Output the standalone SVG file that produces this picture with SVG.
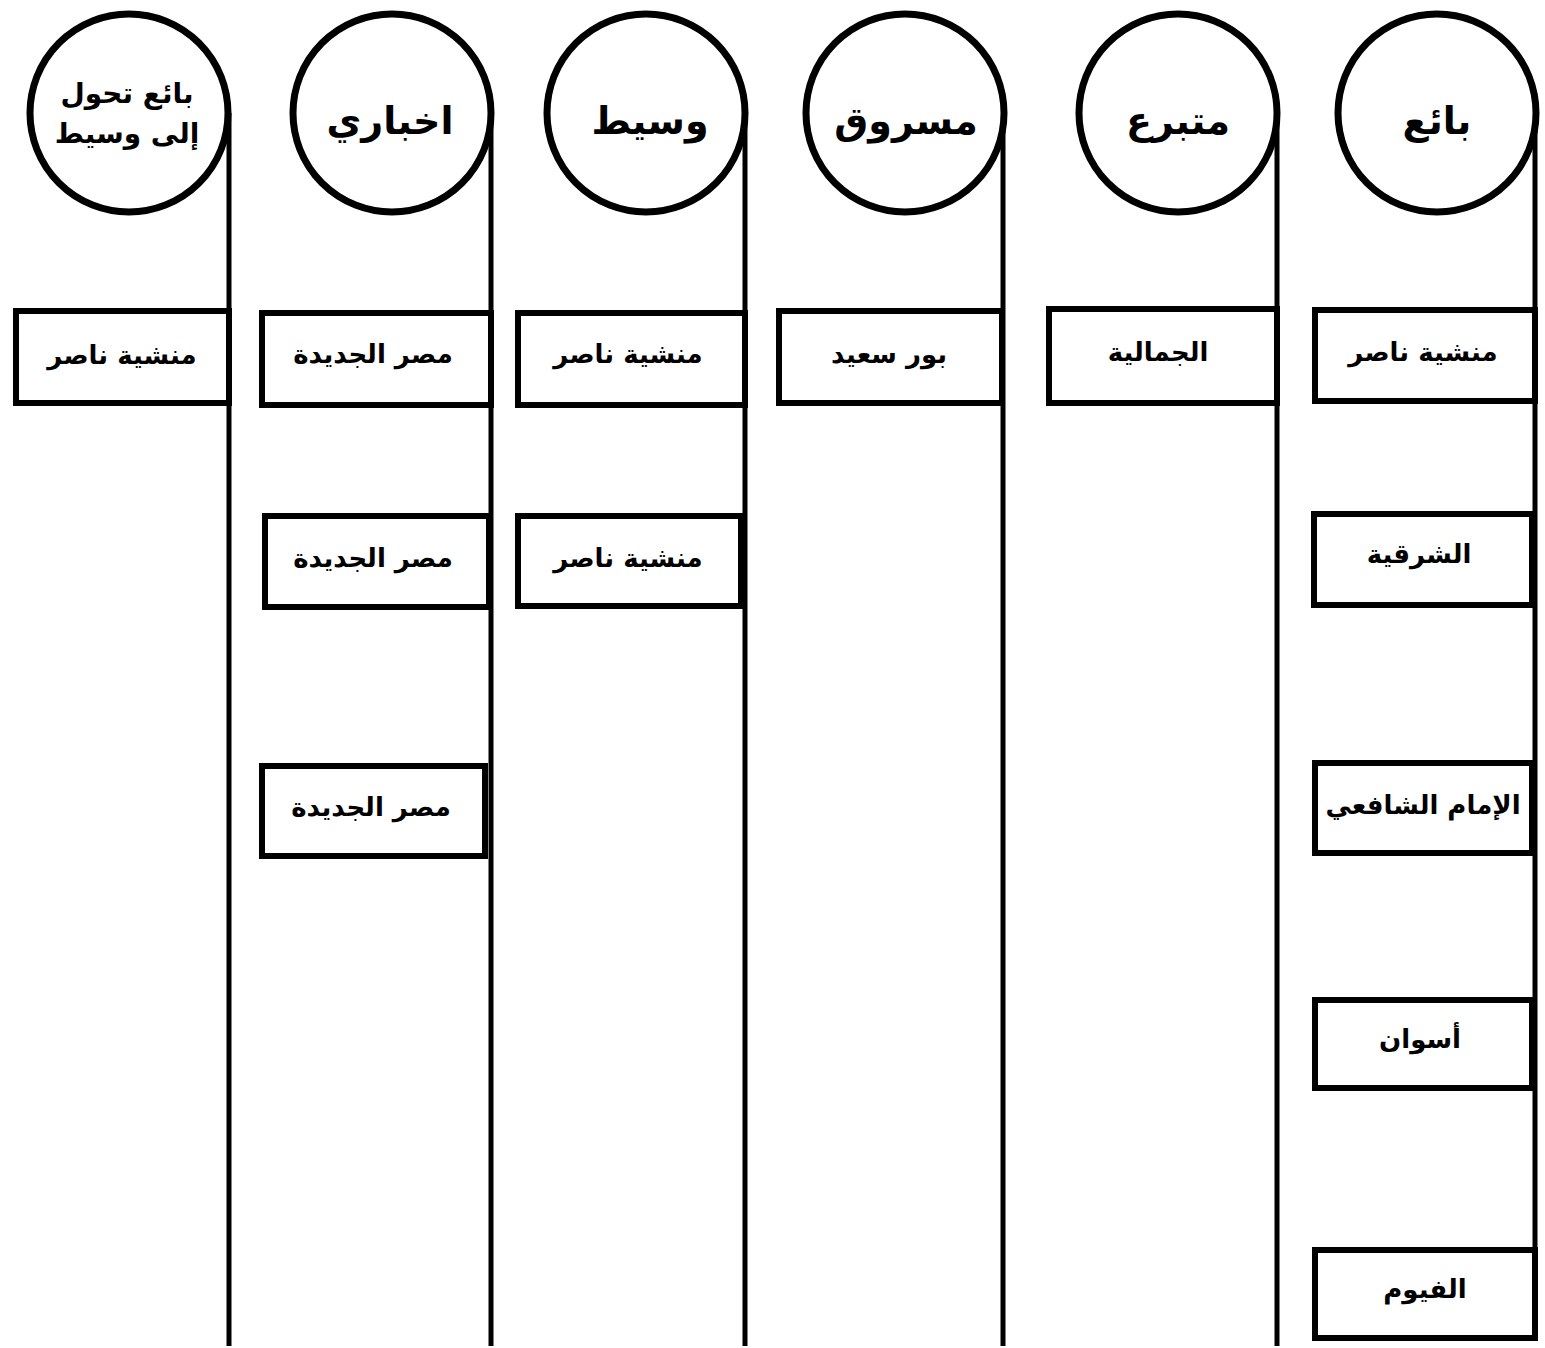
<svg xmlns="http://www.w3.org/2000/svg" width="1545" height="1348" viewBox="0 0 1545 1348">
<style>
.c{fill:#fff;stroke:#000;stroke-width:7}
.b{fill:#fff;stroke:#000;stroke-width:6}
.l{stroke:#000;stroke-width:5;fill:none}
.t{font-family:"DejaVu Sans","Noto Sans",sans-serif;font-weight:bold;fill:#000;text-anchor:middle}
.tc{font-size:38px}
.tb{font-size:26px}
</style>
<rect width="1545" height="1348" fill="#fff"/>
<g id="connectors">
<line class="l" x1="229" y1="113" x2="229" y2="1346"/>
<line class="l" x1="491" y1="113" x2="491" y2="1346"/>
<line class="l" x1="745" y1="113" x2="745" y2="1346"/>
<line class="l" x1="1003" y1="113" x2="1003" y2="1346"/>
<line class="l" x1="1277" y1="113" x2="1277" y2="1346"/>
<line class="l" x1="1535" y1="113" x2="1535" y2="1340"/>
</g>
<g id="n1"><circle class="c" cx="129" cy="113" r="99"/><text class="t" font-size="28" x="127" y="103">بائع تحول</text><text class="t" font-size="28" x="127" y="143">إلى وسيط</text></g>
<g id="n2"><circle class="c" cx="392" cy="113" r="99"/><text class="t tc" x="390" y="134">اخباري</text></g>
<g id="n3"><circle class="c" cx="646" cy="113" r="99"/><text class="t tc" x="650" y="134">وسيط</text></g>
<g id="n4"><circle class="c" cx="905" cy="113" r="99"/><text class="t tc" x="906" y="134">مسروق</text></g>
<g id="n5"><circle class="c" cx="1178" cy="113" r="99"/><text class="t tc" x="1178" y="134">متبرع</text></g>
<g id="n6"><circle class="c" cx="1437" cy="113" r="99"/><text class="t tc" x="1437" y="134">بائع</text></g>

<g id="b1"><rect class="b" x="16" y="311" width="213" height="92"/><text class="t tb" x="122" y="364">منشية ناصر</text></g>
<g id="b2a"><rect class="b" x="262" y="313" width="229" height="92"/><text class="t tb" x="373" y="363">مصر الجديدة</text></g>
<g id="b2b"><rect class="b" x="265" y="516" width="224" height="91"/><text class="t tb" x="373" y="567">مصر الجديدة</text></g>
<g id="b2c"><rect class="b" x="262" y="766" width="223" height="90"/><text class="t tb" x="371" y="816">مصر الجديدة</text></g>
<g id="b3a"><rect class="b" x="518" y="313" width="227" height="92"/><text class="t tb" x="628" y="363">منشية ناصر</text></g>
<g id="b3b"><rect class="b" x="518" y="516" width="223" height="90"/><text class="t tb" x="628" y="567">منشية ناصر</text></g>
<g id="b4"><rect class="b" x="779" y="311" width="223" height="92"/><text class="t tb" x="889" y="363">بور سعيد</text></g>
<g id="b5"><rect class="b" x="1049" y="309" width="228" height="94"/><text class="t tb" x="1158" y="361">الجمالية</text></g>
<g id="b6a"><rect class="b" x="1315" y="310" width="220" height="91"/><text class="t tb" x="1423" y="361">منشية ناصر</text></g>
<g id="b6b"><rect class="b" x="1314" y="514" width="218" height="91"/><text class="t tb" x="1419" y="563">الشرقية</text></g>
<g id="b6c"><rect class="b" x="1315" y="763" width="217" height="90"/><text class="t tb" x="1423" y="814">الإمام الشافعي</text></g>
<g id="b6d"><rect class="b" x="1315" y="1000" width="217" height="88"/><text class="t tb" x="1420" y="1048">أسوان</text></g>
<g id="b6e"><rect class="b" x="1315" y="1250" width="220" height="88"/><text class="t tb" x="1425" y="1298">الفيوم</text></g>
</svg>
